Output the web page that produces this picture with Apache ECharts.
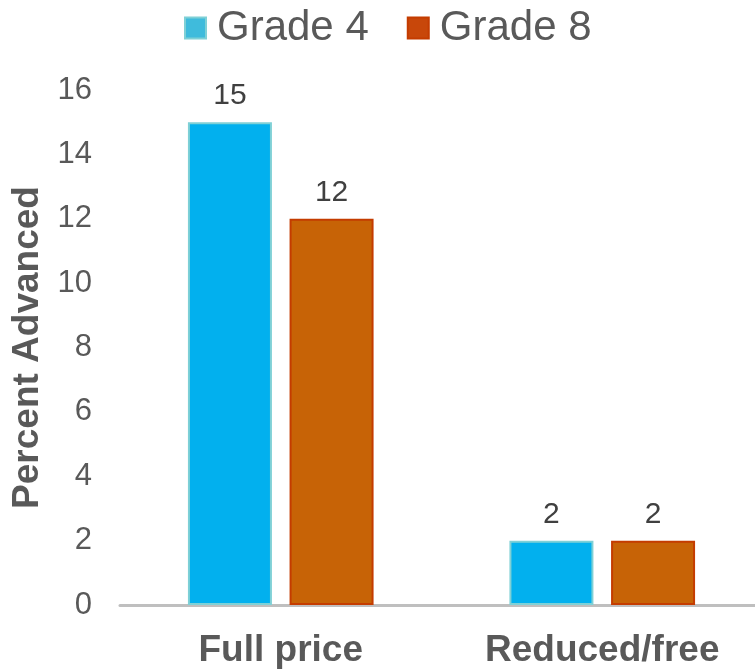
<!DOCTYPE html>
<html>
<head>
<meta charset="utf-8">
<script src="https://cdn.jsdelivr.net/npm/echarts@6/dist/echarts.min.js"></script>
<style>
  html, body { margin: 0; padding: 0; background: #fff; }
  #chart { width: 755px; height: 671px; }
</style>
</head>
<body>
<div id="chart"></div>
<script>
// data
const categories = ['Full price', 'Reduced/free']
const grade4 = [15, 2]
const grade8 = [12, 2]
const seriesNames = ['Grade 4', 'Grade 8']

const chart = echarts.init(document.getElementById('chart'))

const font = 'Liberation Sans, Arial, sans-serif'

// bars with a soft edge tint, like the original
const barStyle = (fill, edge) => ({
  color: fill,
  borderColor: edge,
  borderWidth: 2
})

const labelStyle = {
  show: true,
  position: 'top',
  distance: 11,
  fontFamily: font,
  fontSize: 30,
  color: '#404040'
}

chart.setOption({
  animation: false,
  legend: {
    data: [
      { name: seriesNames[0], itemStyle: { color: '#3fbbdc' } },
      { name: seriesNames[1], itemStyle: { color: '#c8470a' } }
    ],
    left: 179,
    top: 2,
    itemWidth: 21,
    itemHeight: 21,
    itemGap: 38,
    icon: 'rect',
    textStyle: {
      fontFamily: font,
      fontSize: 42,
      color: '#595959',
      padding: [0, 0, 0, 6]
    }
  },
  grid: {
    left: 120,
    width: 643,
    top: 90,
    bottom: 66,
    outerBoundsMode: 'none'
  },
  xAxis: {
    type: 'category',
    data: categories,
    axisTick: { show: false },
    axisLine: { lineStyle: { color: '#bfbfbf', width: 3 } },
    axisLabel: {
      fontFamily: font,
      fontSize: 37,
      fontWeight: 'bold',
      color: '#595959',
      margin: 27
    }
  },
  yAxis: {
    type: 'value',
    min: 0,
    max: 16,
    interval: 2,
    name: 'Percent Advanced',
    nameLocation: 'middle',
    nameGap: 72,
    nameTextStyle: {
      fontFamily: font,
      fontSize: 37,
      fontWeight: 'bold',
      color: '#595959'
    },
    axisLine: { show: false },
    axisTick: { show: false },
    splitLine: { show: false },
    axisLabel: {
      fontFamily: font,
      fontSize: 31,
      color: '#595959',
      margin: 28
    }
  },
  series: [
    {
      name: seriesNames[0],
      type: 'bar',
      data: grade4,
      barWidth: 84,
      barGap: '21%',
      itemStyle: barStyle('#02b0ee', '#7fd0d6'),
      label: labelStyle
    },
    {
      name: seriesNames[1],
      type: 'bar',
      data: grade8,
      barWidth: 84,
      barGap: '21%',
      itemStyle: barStyle('#c76306', '#c43c00'),
      label: labelStyle
    }
  ]
})
</script>
</body>
</html>
